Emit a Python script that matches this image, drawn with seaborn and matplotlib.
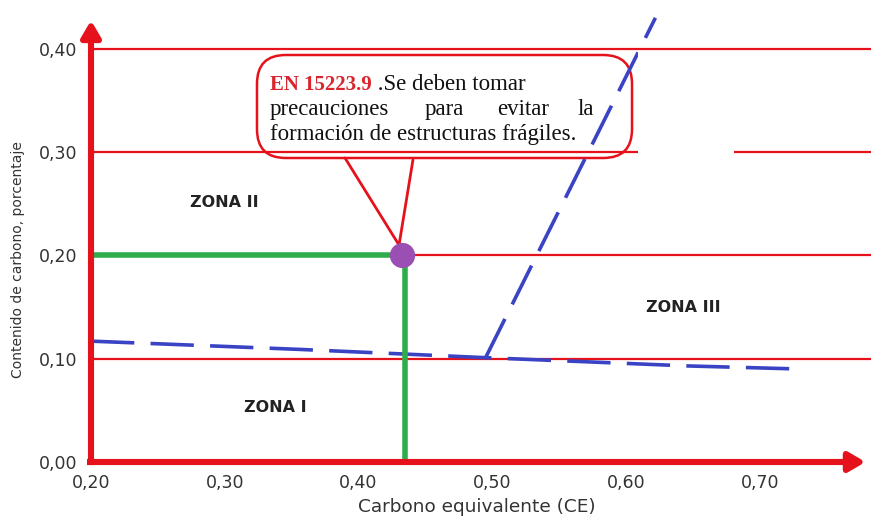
import matplotlib
matplotlib.use("Agg")
import matplotlib.pyplot as plt
import seaborn as sns
from matplotlib.patches import FancyBboxPatch, Rectangle

# ---------------- data ----------------
x_ticks = [0.20, 0.30, 0.40, 0.50, 0.60, 0.70]
x_tick_labels = ["0,20", "0,30", "0,40", "0,50", "0,60", "0,70"]
y_ticks = [0.00, 0.10, 0.20, 0.30, 0.40]
y_tick_labels = ["0,00", "0,10", "0,20", "0,30", "0,40"]
grid_levels = [0.10, 0.20, 0.30, 0.40]

# lower (nearly flat) boundary, dashed blue
lower_ce = [0.20, 0.356, 0.495, 0.646, 0.730]
lower_c = [0.117, 0.109, 0.101, 0.093, 0.090]
# steep boundary, dashed blue
upper_ce = [0.495, 0.622]
upper_c = [0.101, 0.430]

# highlighted point and its guide lines
point_ce = [0.4325]
point_c = [0.20]
guide_h_ce = [0.20, 0.435]
guide_h_c = [0.20, 0.20]
guide_v_ce = [0.435, 0.435]
guide_v_c = [0.00, 0.20]

zone_names = ["ZONA I", "ZONA II", "ZONA III"]
zone_ce = [0.338, 0.300, 0.643]
zone_c = [0.053, 0.251, 0.150]

callout_code = "EN 15223.9"
callout_line1 = " .Se deben tomar"
callout_line2_words = ["precauciones", "para", "evitar", "la"]
callout_line3 = "formación de estructuras frágiles."

x_label = "Carbono equivalente (CE)"
y_label = "Contenido de carbono, porcentaje"

# ---------------- style ----------------
RED = "#e5121b"
GREEN = "#2eae4a"
BLUE = "#3a43c4"
PURPLE = "#9b4fb3"
TXT = "#333333"

sns.set_style("white")
plt.rcParams["font.family"] = ["DejaVu Sans"]

W, H = 871, 519
fig = plt.figure(figsize=(W / 100, H / 100), dpi=100)
ax = fig.add_axes([91 / W, 57 / H, 780 / W, 450 / H])
XMAX = 0.20 + 780 / 1337.5
YMAX = 450 / 1033
ax.set_xlim(0.20, XMAX)
ax.set_ylim(0.0, YMAX)
for s in ax.spines.values():
    s.set_visible(False)
ax.set_facecolor("white")

# red grid lines
ax.hlines(grid_levels, 0.20, XMAX, colors=RED, lw=1.6, zorder=3)

# blue dashed boundaries
sns.lineplot(x=lower_ce, y=lower_c, color=BLUE, lw=2.6, sort=False,
             estimator=None, ax=ax, zorder=3.5)
sns.lineplot(x=upper_ce, y=upper_c, color=BLUE, lw=2.6, sort=False,
             estimator=None, ax=ax, zorder=3.5)
for ln in ax.get_lines():
    ln.set_dashes((12, 4.5))

# white patch hiding part of the chart (as in the original)
ax.add_patch(Rectangle((0.609, 0.2865), 0.0717, 0.1112, facecolor="white",
                       edgecolor="none", zorder=4))

# green guide lines
sns.lineplot(x=guide_h_ce, y=guide_h_c, color=GREEN, lw=4, sort=False,
             estimator=None, ax=ax, zorder=5)
sns.lineplot(x=guide_v_ce, y=guide_v_c, color=GREEN, lw=4, sort=False,
             estimator=None, ax=ax, zorder=5)

# purple point
sns.scatterplot(x=point_ce, y=point_c, color=PURPLE, s=330, linewidth=0,
                ax=ax, zorder=7)

# axes arrows
arrow_kw = dict(arrowstyle="-|>,head_length=0.55,head_width=0.32", lw=4.4,
                color=RED, mutation_scale=18, shrinkA=0, shrinkB=0,
                capstyle="butt")
ax.annotate("", xy=(XMAX - 0.004, 0), xytext=(0.197, 0),
            arrowprops=arrow_kw, annotation_clip=False, zorder=8)
ax.annotate("", xy=(0.20, YMAX - 0.008), xytext=(0.20, -0.003),
            arrowprops=arrow_kw, annotation_clip=False, zorder=8)

# ticks
ax.set_xticks(x_ticks)
ax.set_xticklabels(x_tick_labels)
ax.set_yticks(y_ticks)
ax.set_yticklabels(y_tick_labels)
ax.tick_params(axis="x", direction="in", length=8, width=1.1, color="#222222",
               pad=9, labelsize=12.5, labelcolor=TXT)
ax.tick_params(axis="y", length=0, pad=10, labelsize=12.5, labelcolor=TXT)
ax.set_xlabel("")
ax.set_ylabel("")

fig.text(477 / W, 1 - 507 / H, x_label, ha="center", va="center",
         fontsize=13.3, color=TXT)
fig.text(18 / W, 1 - 260 / H, y_label, ha="center", va="center",
         rotation=90, fontsize=10, color=TXT)

# zone labels
for name, xc, yc in zip(zone_names, zone_ce, zone_c):
    ax.text(xc, yc, name, ha="center", va="center", fontsize=11.5,
            fontweight="bold", color="#222222", zorder=6)

# callout box
box = FancyBboxPatch((0.3241, 0.2943), 0.6045 - 0.3241, 0.394 - 0.2943,
                     boxstyle="round,pad=0,rounding_size=0.0215",
                     mutation_aspect=1337.5 / 1033,
                     facecolor="white", edgecolor=RED, lw=1.8, zorder=2)
ax.add_patch(box)
ax.plot([0.3899, 0.4303, 0.4407], [0.2943, 0.210, 0.2924], color=RED,
        lw=2.0, zorder=6, solid_joinstyle="miter")

serif = ["Liberation Serif", "DejaVu Serif"]
FS = 16.5
t1 = ax.text(0.3338, 0.365, callout_code, ha="left", va="center",
             fontsize=15, family=serif, fontweight="bold", color="#d9262e",
             zorder=9)
ax.annotate(callout_line1, xy=(1, 0.5), xycoords=t1, ha="left", va="center",
            fontsize=FS, family=serif, color="#111111", zorder=9)
for word, xw in zip(callout_line2_words, [0.3338, 0.4497, 0.5036, 0.5634]):
    ax.text(xw, 0.3408, word, ha="left", va="center", fontsize=FS,
            family=serif, color="#111111", zorder=9)
ax.text(0.3338, 0.3166, callout_line3, ha="left", va="center", fontsize=FS,
        family=serif, color="#111111", zorder=9)

fig.savefig("out.png", dpi=100, facecolor="white")
